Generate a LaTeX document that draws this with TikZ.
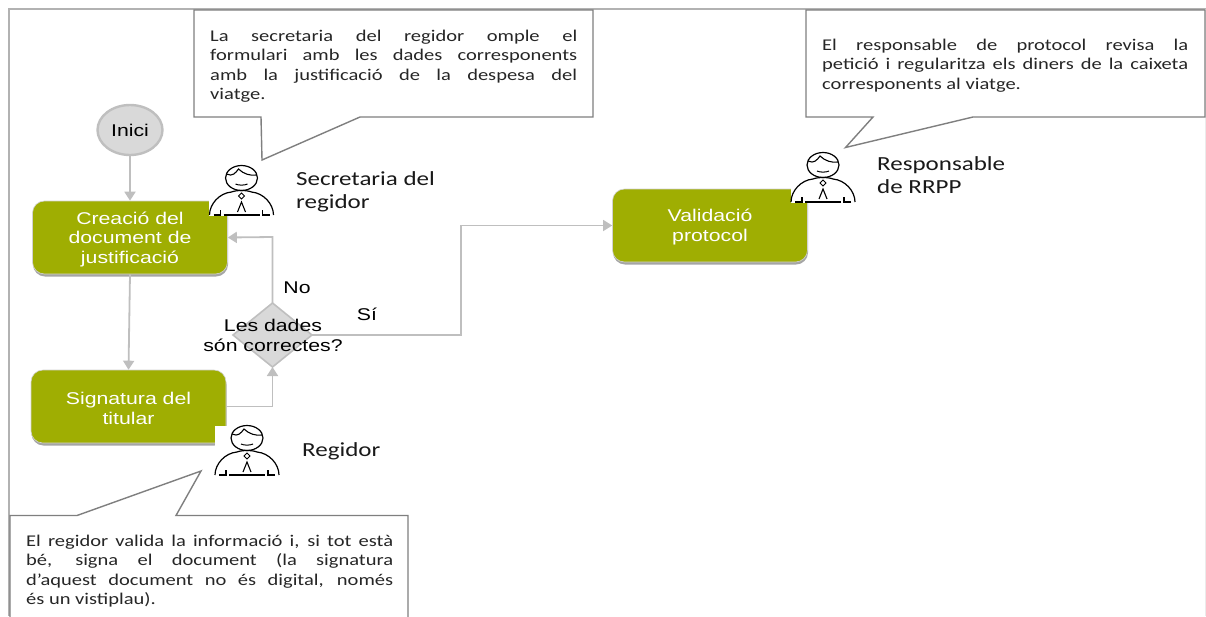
\documentclass[tikz,border=0pt]{standalone}
\usepackage{fontspec}
\setmainfont[FakeStretch=1.25]{Carlito}
\newfontfamily\arialf[FakeStretch=1.25]{Liberation Sans}
\usetikzlibrary{arrows.meta,shadows,shapes.geometric}
\definecolor{boxgreen}{HTML}{9FAE02}
\definecolor{conn}{HTML}{BFBFBF}
\definecolor{calloutline}{HTML}{7F7F7F}
\definecolor{dia}{HTML}{D9D9D9}
\newcommand{\lowerstrut}{\rule{0pt}{16pt}}
\tikzset{
 flowbox/.style={rounded corners=12pt,fill=boxgreen,draw=conn!70!white,line width=0.6pt,minimum width=195pt,minimum height=73pt,text=white,align=center,inner sep=0pt,
   font=\arialf\fontsize{17}{19.5}\selectfont,drop shadow={shadow xshift=0.5pt,shadow yshift=-2.5pt,opacity=.5,fill=black!70}},
 conn/.style={draw=conn,line width=1.8pt,-{Triangle[length=9pt,width=11pt]}},
 callout/.style={draw=calloutline,line width=1.4pt,fill=white},
 calltext/.style={text width=367pt,align=justify,inner sep=0pt,anchor=north west,text=black!85,font=\fontsize{16.4}{19.5}\selectfont},
 role/.style={anchor=west,align=left,inner sep=0pt,text=black!90,font=\fontsize{20}{23}\selectfont},
 lab/.style={inner sep=0pt,text=black,font=\arialf\fontsize{17}{19.5}\selectfont},
 person/.pic={
  \fill[white] (-32.5,0) rectangle (33,49.5);
  \draw[black,line width=1.2pt] (0,12) ellipse (16pt and 12.5pt);
  \draw[black,line width=1.1pt] (-15,8) .. controls (-9,11) and (-6,7) .. (-3,3) .. controls (2,8) and (9,10) .. (15,9);
  \draw[black,line width=1pt] (-6,18) .. controls (-3,19.5) and (3,19.5) .. (6,18);
  \draw[black,line width=1.2pt] (-32,49) .. controls (-32,38) and (-22,27) .. (-10,26) .. controls (-5,24) and (5,24) .. (10,26) .. controls (22,27) and (32,38) .. (32,49);
  \draw[black,line width=1.2pt] (-28,49) -- (-21,49) -- (-21,44) (28,49) -- (21,49) -- (21,44) (-18,49) -- (18,49);
  \draw[black,line width=1pt] (0,27) -- (3,30) -- (0,33) -- (-3,30) -- cycle;
  \draw[black,line width=1.1pt] (-4,46) -- (0,36) -- (4,46);
 }
}
\begin{document}
\begin{tikzpicture}[x=1pt,y=-1pt]
\useasboundingbox (0,0) rectangle (1206,616);
% frame
\draw[draw=black!30,line width=2pt] (8.5,616) -- (8.5,8.5) -- (1206,8.5);
\draw[draw=black!8,line width=1pt] (1205.5,8.5) -- (1205.5,616);
% nodes
\node[draw=conn,line width=2.4pt,fill=dia,ellipse,inner sep=0pt,text=black,font=\arialf\fontsize{17}{19}\selectfont,minimum width=65pt,minimum height=50pt] (inici) at (130,130) {Inici};
\node[flowbox] (crea) at (130,237.5) {\lowerstrut Creació del\\document de\\justificació};
\node[flowbox] (sign) at (128.5,406.5) {\lowerstrut Signatura del\\titular};
\node[flowbox] (valid) at (710,225.5) {\lowerstrut Validació\\protocol};
\path[draw=conn,line width=1.6pt,fill=dia] (272.5,303) -- (312,335) -- (272.5,367) -- (233,335) -- cycle;
\coordinate (diaT) at (272.5,303);
\coordinate (diaB) at (272.5,367);
\coordinate (diaR) at (312,335);
\node[lab,align=center] (diat) at (273,335.5) {Les dades\\són correctes?};
% connectors
\draw[conn] (inici.south) -- (crea.north);
\draw[conn] (crea.south) -- (sign.north);
\draw[conn] (diaT) -- (272.5,237) -- (crea.east);
\draw[conn] (sign.east) -- (272.5,406.5) -- (diaB);
\draw[conn,line width=1.4pt] (diaR) -- (461,335) -- (461,225.5) -- (valid.west);
\node[lab] (no) at (297,288) {No};
\node[lab] (si) at (367,314) {Sí};
% callouts
\draw[callout] (194,10) -- (593,10) -- (593,117) -- (360,117) -- (262,160) -- (261,117) -- (194,117) -- cycle;
\node[calltext] (t1) at (210,29.5) {La secretaria del regidor omple el\linebreak formulari amb les dades corresponents\linebreak amb la justificació de la despesa del\linebreak viatge.};
\draw[callout] (806,10) -- (1205,10) -- (1205,117) -- (973,117) -- (845.5,147.5) -- (873,117) -- (806,117) -- cycle;
\node[calltext,text width=366pt] (t3) at (822,38.5) {El responsable de protocol revisa la\linebreak petició i regularitza els diners de la caixeta\linebreak corresponents al viatge.};
\draw[callout] (10,620) -- (10,515.5) -- (77,515.5) -- (201,471) -- (176,515.5) -- (408,515.5) -- (408,620);
\node[calltext] (t2) at (26,534.5) {El regidor valida la informació i, si tot està\linebreak bé, signa el document (la signatura\linebreak d’aquest document no és digital, només\linebreak és un vistiplau).};
% persons
\pic at (241.5,166) {person};
\pic at (247,426) {person};
\pic at (823,153) {person};
% role labels
\node[role] (r1) at (296,192) {Secretaria del\\regidor};
\node[role] (r2) at (302,451.5) {Regidor};
\node[role] (r3) at (877,175) {Responsable\\de RRPP};
\end{tikzpicture}
\end{document}
